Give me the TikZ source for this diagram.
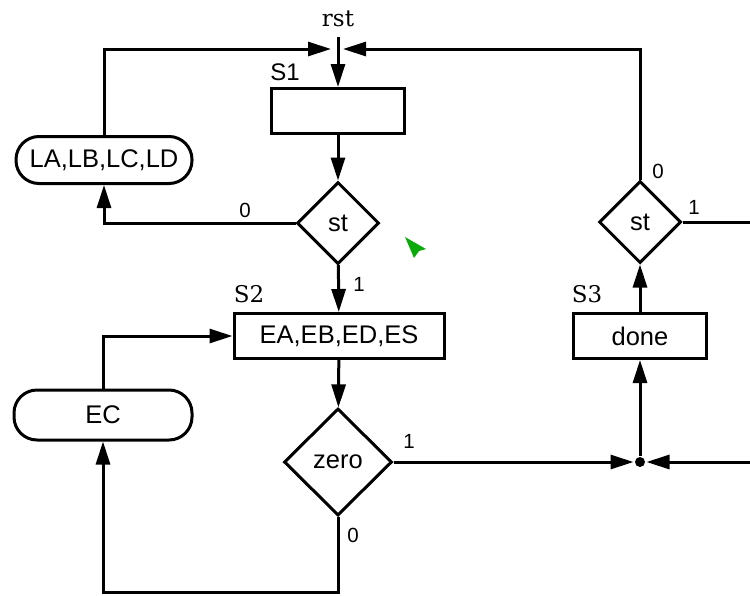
\documentclass[tikz,border=0pt]{standalone}
\usepackage{fontspec}
\newfontfamily\sansf{Liberation Sans}
\newfontfamily\seriff{DejaVu Serif}
\usetikzlibrary{arrows.meta,shapes.geometric}
\definecolor{cursorgreen}{RGB}{10,170,10}
\begin{document}
\begin{tikzpicture}[x=1pt,y=-1pt, line width=3pt,
  >={Triangle[length=23pt,width=14pt]},
  txt/.style={font=\sansf\fontsize{25.5}{29}\selectfont},
  box/.style={draw, rectangle, minimum width=133pt, minimum height=45pt, inner sep=0pt, txt},
  dia/.style={draw, diamond, inner sep=0pt, txt},
  pill/.style={draw, rectangle, rounded corners=23pt, minimum width=176pt, minimum height=47pt, inner sep=0pt, txt},
  dot/.style={circle, fill, minimum size=10pt, inner sep=0pt},
  lbl/.style={font=\sansf\fontsize{20.5}{24}\selectfont, inner sep=0pt},
  slbl/.style={font=\seriff\fontsize{23}{27}\selectfont, inner sep=0pt},
  sslbl/.style={font=\sansf\fontsize{24}{28}\selectfont, inner sep=0pt}]
\path[use as bounding box] (0,0) rectangle (750,595);
% nodes
\node[box] (s1) at (338,111) {};
\node[dia, minimum width=82pt, minimum height=82pt] (st1) at (338,223) {st};
\node[box, minimum width=210pt] (s2) at (339,336) {EA,EB,ED,ES};
\node[dia, minimum width=108pt, minimum height=107pt] (zero) at (338,462) {zero};
\node[pill] (la) at (104,160) {LA,LB,LC,LD};
\node[pill, minimum width=178pt, minimum height=50pt] (ec) at (103,415) {EC};
\node[box] (done) at (640,336) {done};
\node[dia, minimum width=82pt, minimum height=82pt] (st2) at (640,222) {st};
\node[dot] (j) at (640,462) {};
% labels
\node[slbl] (rst) at (338,19) {rst};
\node[sslbl] (ls1) at (285,72) {S1};
\node[slbl] (ls2) at (249,294) {S2};
\node[slbl] (ls3) at (587,294) {S3};
\node[lbl] (l0a) at (245,210) {0};
\node[lbl] (l1a) at (359,284) {1};
\node[lbl] (l0b) at (658,171) {0};
\node[lbl] (l1b) at (694,207) {1};
\node[lbl] (l1c) at (409,441) {1};
\node[lbl] (l0c) at (353,535) {0};
% coordinates
\coordinate (rsttop) at (338,37);
\coordinate (rstj) at (338,49);
\coordinate (re1) at (750,222);
\coordinate (re2) at (750,462);
\coordinate (br) at (338,592);
% connectors
\draw[->] (rsttop) -- (s1.north);
\draw[->, shorten >=7pt] (la.north) |- (rstj);
\draw[->, shorten >=5pt] (st2.north) |- (rstj);
\draw[->] (s1) -- (st1);
\draw[->] (st1.west) -| (la.south);
\draw[->] (st1) -- (s2);
\draw[->] (s2) -- (zero);
\draw[->] (zero.east) -- (j);
\draw[->] (re2) -- (j);
\draw[->] (j) -- (done);
\draw[->] (done) -- (st2);
\draw (st2.east) -- (re1);
\draw[->] (zero.south) -- (br) -| (ec.south);
\draw[->] (ec.north) |- (s2.west);
% cursor
\fill[cursorgreen] (405,237) -- (426,249) -- (419,251) -- (414,258) -- cycle;
\end{tikzpicture}
\end{document}
